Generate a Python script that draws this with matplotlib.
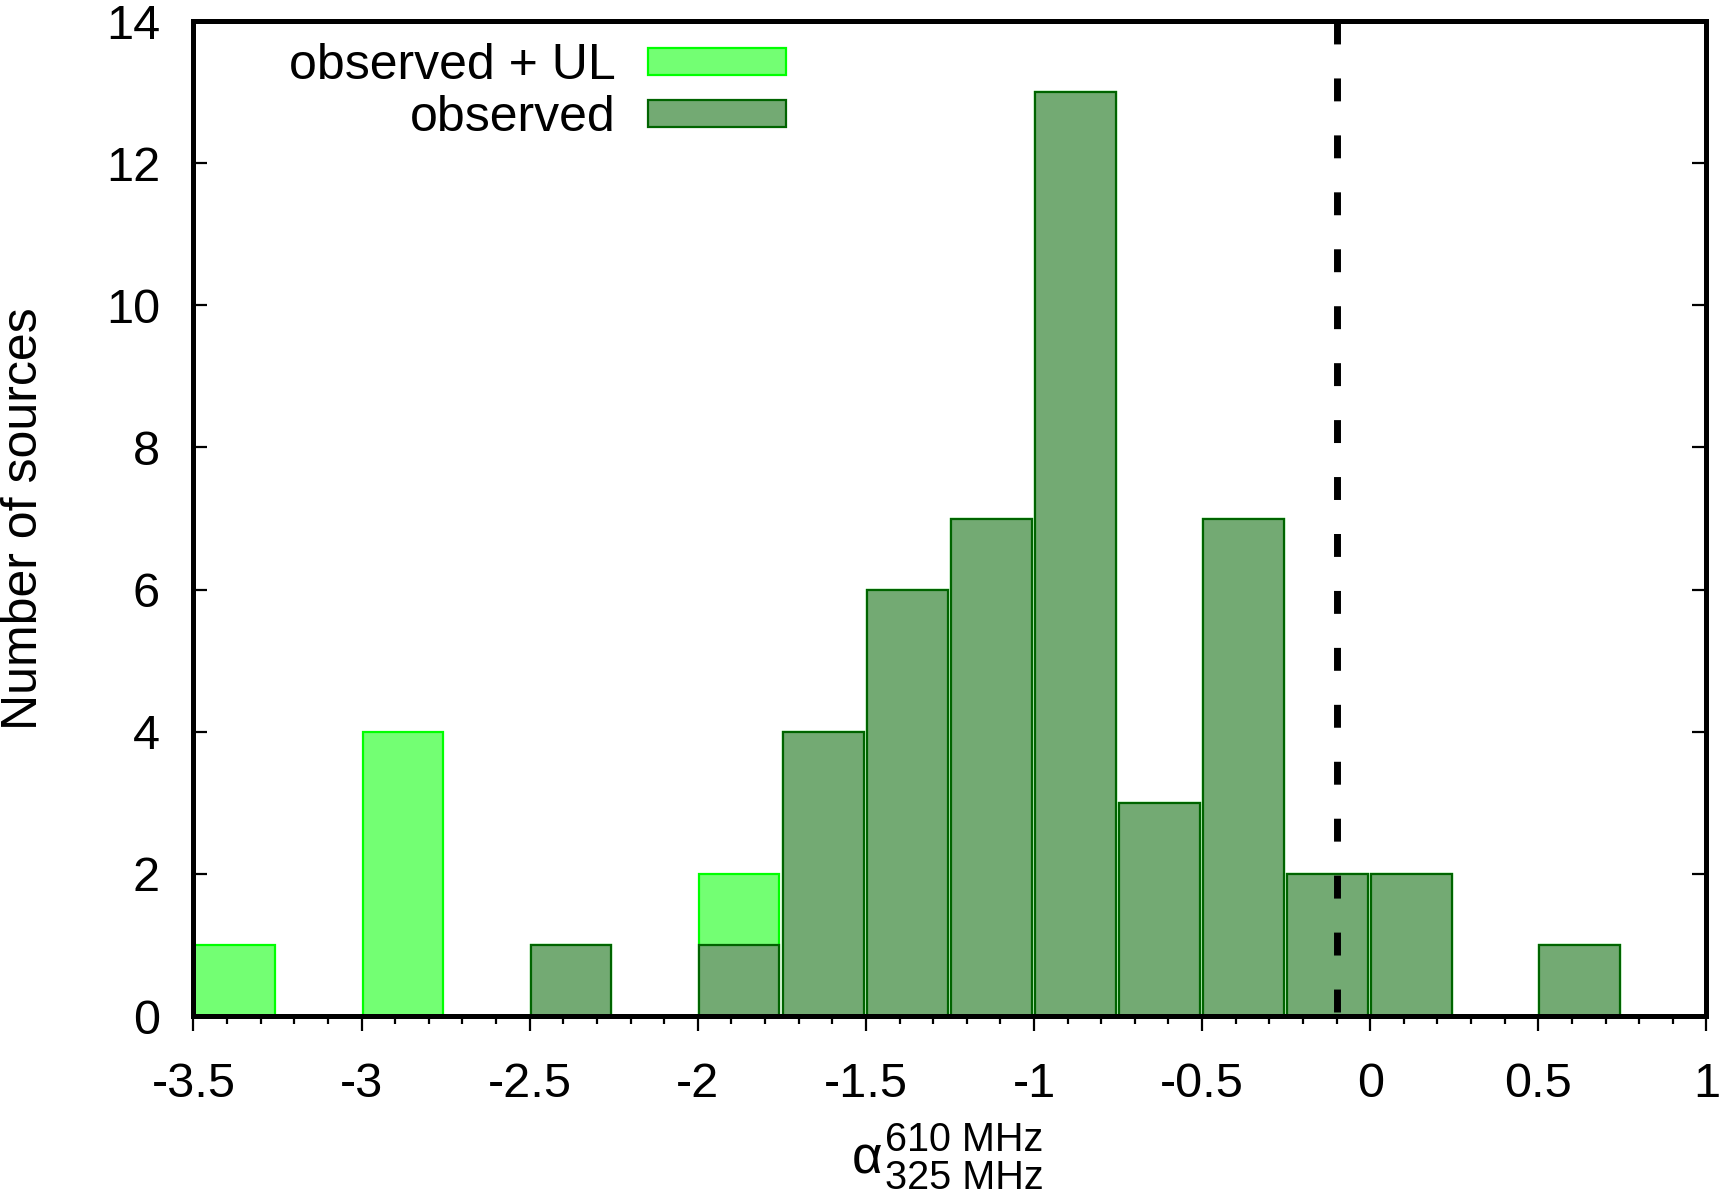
import matplotlib
matplotlib.use("Agg")
import matplotlib.pyplot as plt
from matplotlib.patches import Patch
from matplotlib.ticker import MultipleLocator
import numpy as np

plt.rcParams['font.family'] = ['Liberation Sans', 'DejaVu Sans']
plt.rcParams['lines.scale_dashes'] = False

# Data: histogram of spectral index, bin width 0.25
bin_left = [-3.5, -3.25, -3.0, -2.75, -2.5, -2.25, -2.0, -1.75, -1.5, -1.25,
            -1.0, -0.75, -0.5, -0.25, 0.0, 0.25, 0.5, 0.75]
observed = [0, 0, 0, 0, 1, 0, 1, 4, 6, 7, 13, 3, 7, 2, 2, 0, 1, 0]
upper_limits = [1, 0, 4, 0, 0, 0, 1, 0, 0, 0, 0, 0, 0, 0, 0, 0, 0, 0]
observed_plus_ul = [o + u for o, u in zip(observed, upper_limits)]
threshold = -0.1

labels = ["observed + UL", "observed"]
xticks = [-3.5, -3, -2.5, -2, -1.5, -1, -0.5, 0, 0.5, 1]
xticklabels = ["-3.5", "-3", "-2.5", "-2", "-1.5", "-1", "-0.5", "0", "0.5", "1"]
yticks = [0, 2, 4, 6, 8, 10, 12, 14]

light_fill, light_edge = "#73FF73", "#00FF00"
dark_fill, dark_edge = "#73AA73", "#006400"

fig = plt.figure(figsize=(17.30, 11.96), dpi=100)
ax = fig.add_axes([0.1118, 0.1505, 0.8746, 0.8319])

bw = 0.24
bl = np.array(bin_left)
tot = np.array(observed_plus_ul)
obs = np.array(observed)
m1 = tot > 0
ax.bar(bl[m1] + 0.003, tot[m1], width=bw, align='edge', color=light_fill,
       edgecolor=light_edge, linewidth=1.6, zorder=1)
m2 = obs > 0
ax.bar(bl[m2] + 0.003, obs[m2], width=bw, align='edge', color=dark_fill,
       edgecolor=dark_edge, linewidth=1.6, zorder=1.1)

ax.plot([threshold, threshold], [14, 0], color='black', linewidth=5,
        dashes=(16.5, 24.5), solid_capstyle='butt', dash_capstyle='butt', zorder=3)

ax.set_xlim(-3.5, 1)
ax.set_ylim(0, 14)
ax.set_xticks(xticks)
ax.set_xticklabels(xticklabels)
ax.xaxis.set_minor_locator(MultipleLocator(0.1))
ax.set_yticks(yticks)

for s in ax.spines.values():
    s.set_linewidth(3.6)

ax.tick_params(axis='x', which='major', direction='out', length=11, width=1.6,
               labelsize=35, pad=22, top=False)
ax.tick_params(axis='x', which='minor', direction='out', length=6, width=1.6, top=False)
ax.tick_params(axis='y', which='major', direction='in', length=10, width=1.6,
               labelsize=35, pad=24, left=True, right=True)

ax.set_ylabel("Number of sources", fontsize=36, labelpad=42)

# x-axis label: alpha with stacked super/subscript
fig.text(852 / 1730, 1 - 1173 / 1196, "\u03b1", fontsize=38, ha='left', va='baseline')
fig.text(885 / 1730, 1 - 1151 / 1196, "610 MHz", fontsize=28.5, ha='left', va='baseline')
fig.text(885 / 1730, 1 - 1189 / 1196, "325 MHz", fontsize=28.5, ha='left', va='baseline')

handles = [Patch(facecolor=light_fill, edgecolor=light_edge, linewidth=1.6),
           Patch(facecolor=dark_fill, edgecolor=dark_edge, linewidth=1.6)]
ax.legend(handles, labels, loc='upper right', bbox_to_anchor=(0.3916, 0.978),
          frameon=False, markerfirst=False, fontsize=36, handlelength=2.76,
          handleheight=0.46, handletextpad=0.64, labelspacing=0.13,
          borderpad=0, borderaxespad=0)

fig.savefig("out.png", dpi=100)
